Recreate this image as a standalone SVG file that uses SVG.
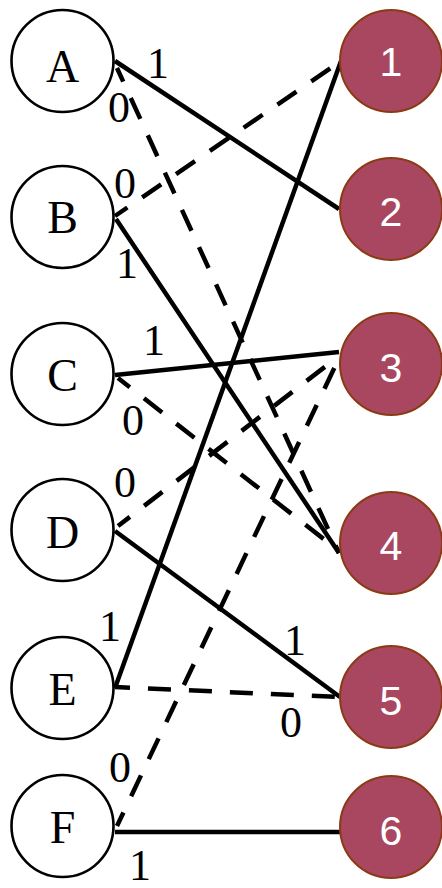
<svg xmlns="http://www.w3.org/2000/svg" width="442" height="888" viewBox="0 0 442 888">
<style>
.bg{fill:#ffffff}
.ln{stroke:#000;stroke-width:4.5;fill:none}
.ds{stroke:#000;stroke-width:4.5;fill:none;stroke-dasharray:23 18;stroke-dashoffset:8}
.lc{fill:#fff;stroke:#000;stroke-width:2.6}
.rc{fill:#A8475F;stroke:#8B3A14;stroke-width:2}
.lt{font-family:"Liberation Serif","Times New Roman",serif;font-size:46px;fill:#000;text-anchor:middle}
.rt{font-family:"Liberation Sans",Arial,sans-serif;font-size:41px;fill:#fff;text-anchor:middle}
.el{font-family:"Liberation Serif","Times New Roman",serif;font-size:44px;fill:#000;text-anchor:middle}
</style>
<rect class="bg" x="0" y="0" width="442" height="888"/>
<g id="connectors">
  <line class="ln" x1="115" y1="61" x2="339" y2="209"/>
  <line class="ds" x1="117" y1="68" x2="339" y2="553"/>
  <line class="ds" x1="115" y1="216" x2="341" y2="61"/>
  <line class="ln" x1="116" y1="219" x2="339" y2="553"/>
  <line class="ln" x1="115" y1="375" x2="339" y2="352"/>
  <line class="ds" x1="118" y1="378" x2="339" y2="551"/>
  <line class="ds" x1="118" y1="526" x2="339" y2="356"/>
  <line class="ln" x1="115" y1="531" x2="340" y2="697"/>
  <line class="ln" x1="115" y1="688" x2="341" y2="61"/>
  <line class="ds" x1="115" y1="687" x2="339" y2="697"/>
  <line class="ds" x1="117" y1="826" x2="339" y2="358"/>
  <line class="ln" x1="115" y1="832" x2="340" y2="832"/>
</g>
<g id="edge-labels">
  <text class="el" x="158" y="78">1</text>
  <text class="el" x="119" y="122">0</text>
  <text class="el" x="125" y="198">0</text>
  <text class="el" x="127" y="278">1</text>
  <text class="el" x="154" y="355">1</text>
  <text class="el" x="133" y="435">0</text>
  <text class="el" x="125" y="497">0</text>
  <text class="el" x="295" y="655">1</text>
  <text class="el" x="110" y="641">1</text>
  <text class="el" x="291" y="737">0</text>
  <text class="el" x="120" y="782">0</text>
  <text class="el" x="140" y="880">1</text>
</g>
<g id="node-A"><circle class="lc" cx="62.5" cy="61" r="51"/><text class="lt" x="62.5" y="82">A</text></g>
<g id="node-B"><circle class="lc" cx="62.5" cy="217" r="51"/><text class="lt" x="62.5" y="233">B</text></g>
<g id="node-C"><circle class="lc" cx="62.5" cy="374" r="51"/><text class="lt" x="62.5" y="391">C</text></g>
<g id="node-D"><circle class="lc" cx="62.5" cy="530" r="51"/><text class="lt" x="62.5" y="548">D</text></g>
<g id="node-E"><circle class="lc" cx="62.5" cy="688" r="51"/><text class="lt" x="62.5" y="705">E</text></g>
<g id="node-F"><circle class="lc" cx="62.5" cy="826" r="51"/><text class="lt" x="62.5" y="843">F</text></g>
<g id="node-1"><circle class="rc" cx="391" cy="61" r="51"/><text class="rt" x="391" y="76">1</text></g>
<g id="node-2"><circle class="rc" cx="391" cy="209" r="51"/><text class="rt" x="391" y="226">2</text></g>
<g id="node-3"><circle class="rc" cx="391" cy="364" r="51"/><text class="rt" x="391" y="382">3</text></g>
<g id="node-4"><circle class="rc" cx="391" cy="543" r="51"/><text class="rt" x="391" y="560">4</text></g>
<g id="node-5"><circle class="rc" cx="391" cy="697" r="51"/><text class="rt" x="391" y="715">5</text></g>
<g id="node-6"><circle class="rc" cx="391" cy="827" r="51"/><text class="rt" x="391" y="845">6</text></g>
</svg>
